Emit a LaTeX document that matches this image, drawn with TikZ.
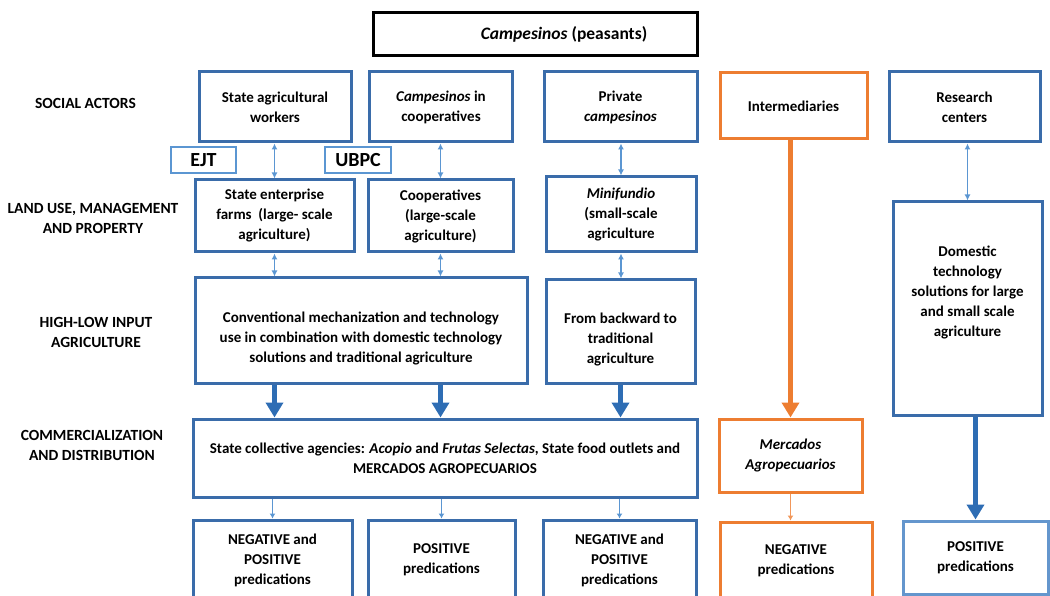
\documentclass[tikz,border=0pt]{standalone}
\usepackage{fontspec}
\setmainfont{Carlito}
\usetikzlibrary{arrows.meta}

\definecolor{boxblue}{RGB}{58,108,170}
\definecolor{arrowblue}{RGB}{46,109,180}
\definecolor{lightblue}{RGB}{91,150,210}
\definecolor{paleblue}{RGB}{100,150,205}
\definecolor{accorange}{RGB}{237,125,49}

\begin{document}
\begin{tikzpicture}[x=1pt,y=-1pt,
  txt/.style={font=\bfseries\fontsize{15}{20}\selectfont, align=center, inner sep=0pt},
  bbox/.style={txt, draw=boxblue, line width=3pt},
  obox/.style={txt, draw=accorange, line width=3pt},
  tagbox/.style={draw=lightblue, line width=1.5pt, inner sep=0pt,
    font=\bfseries\fontsize{20}{22}\selectfont},
  lbl/.style={txt, font=\bfseries\fontsize{15.5}{20}\selectfont},
  dbl/.style={draw=lightblue, line width=1.3pt,
    {Latex[width=6pt,length=6pt]}-{Latex[width=6pt,length=6pt]}},
  sgl/.style={draw=lightblue, line width=1pt, -{Latex[width=6pt,length=5pt]}},
  sglorange/.style={draw=accorange!80, line width=1pt, -{Latex[width=6pt,length=5pt]}},
  thickarr/.style={draw=arrowblue, line width=5.5pt, -{Triangle[width=17pt,length=15pt]}},
  thickorange/.style={draw=accorange, line width=5.5pt, -{Triangle[width=17pt,length=15pt]}}
]
\useasboundingbox (0,0) rectangle (1050,596);

% heading box
\node[txt, draw=black, line width=3pt, minimum width=324, minimum height=43,
  font=\bfseries\fontsize{17.5}{20}\selectfont]
  (peas) at (535,34.5) {\hspace*{58pt}\textit{Campesinos} (peasants)};

% row labels
\node[lbl] (l1) at (85.5,103) {SOCIAL ACTORS};
\node[lbl] (l2) at (93,218) {LAND USE, MANAGEMENT\\AND PROPERTY};
\node[lbl] (l3) at (96,332) {HIGH-LOW INPUT\\AGRICULTURE};
\node[lbl] (l4) at (92,445) {COMMERCIALIZATION\\AND DISTRIBUTION};

% social actors
\node[bbox, minimum width=152, minimum height=70] (sa) at (275,107) {State agricultural\\workers};
\node[bbox, minimum width=143, minimum height=70] (cc) at (441,107) {\textit{Campesinos} in\\cooperatives};
\node[bbox, minimum width=153, minimum height=70] (pc) at (620.5,107) {Private\\\textit{campesinos}};
\node[obox, minimum width=147, minimum height=66] (inter) at (793.5,106) {Intermediaries};
\node[bbox, minimum width=151, minimum height=70] (rc) at (964.5,107) {Research\\centers};

\node[tagbox, minimum width=65, minimum height=26] (ejt) at (203.5,160) {EJT};
\node[tagbox, minimum width=66, minimum height=26] (ubpc) at (358,160) {UBPC};

% land use
\node[bbox, minimum width=159, minimum height=72] (sef) at (274.5,216) {State enterprise\\farms~ (large- scale\\agriculture)};
\node[bbox, minimum width=145, minimum height=72] (coop) at (440.5,216) {Cooperatives\\(large-scale\\agriculture)};
\node[bbox, minimum width=150, minimum height=75] (mini) at (621,214.5) {\textit{Minifundio}\\(small-scale\\agriculture};

% input levels
\node[bbox, minimum width=332, minimum height=105] (conv) at (361,330.5) {};
\node[txt] (convtxt) at (361,338) {Conventional mechanization and technology\\use in combination with domestic technology\\solutions and traditional agriculture};
\node[bbox, minimum width=149, minimum height=103] (back) at (620.5,331.5) {};
\node[txt] (backtxt) at (620.5,340) {From backward to\\traditional\\agriculture};
\node[bbox, minimum width=149, minimum height=213] (dom) at (967.5,308.5) {};
\node[txt] (domtxt) at (967.5,292) {Domestic\\technology\\solutions for large\\and small scale\\agriculture};

% commercialization
\node[bbox, minimum width=504, minimum height=78] (coll) at (445,458) {State collective agencies: \textit{Acopio} and \textit{Frutas Selectas}, State food outlets and\\MERCADOS AGROPECUARIOS};
\node[obox, minimum width=143, minimum height=73] (merc) at (790.5,455.5) {\textit{Mercados}\\\textit{Agropecuarios}};

% predications
\node[bbox, minimum width=159, minimum height=80] (p1) at (272.5,560) {NEGATIVE and\\POSITIVE\\predications};
\node[bbox, minimum width=147, minimum height=80] (p2) at (441.5,560) {POSITIVE\\predications};
\node[bbox, minimum width=153, minimum height=80] (p3) at (619.5,560) {NEGATIVE and\\POSITIVE\\predications};
\node[obox, minimum width=152, minimum height=78] (p4) at (796,561) {NEGATIVE\\predications};
\node[txt, draw=paleblue, line width=3pt, minimum width=145, minimum height=73] (p5) at (975.5,557.5) {POSITIVE\\predications};

% links between levels
\draw[dbl] (sa.south -| sef) -- (sef.north);
\draw[dbl] (cc.south -| coop) -- (coop.north);
\draw[dbl] (pc.south -| mini) -- (mini.north);
\draw[dbl] (rc.south -| dom) -- (dom.north);
\draw[dbl] (sef.south) -- (conv.north -| sef);
\draw[dbl] (coop.south) -- (conv.north -| coop);
\draw[dbl] (mini.south) -- (back.north -| mini);

\draw[thickarr] (conv.south -| sef) -- (coll.north -| sef);
\draw[thickarr] (conv.south -| coop) -- (coll.north -| coop);
\draw[thickarr] (back.south) -- (coll.north -| back);
\draw[thickorange] (inter.south -| merc) -- (merc.north);
\draw[thickarr] (dom.south -| p5) -- (p5.north);

\draw[sgl] (coll.south -| p1) -- (p1.north);
\draw[sgl] (coll.south -| p2) -- (p2.north);
\draw[sgl] (coll.south -| p3) -- (p3.north);
\draw[sglorange] (merc.south) -- (p4.north -| merc);
\end{tikzpicture}
\end{document}
